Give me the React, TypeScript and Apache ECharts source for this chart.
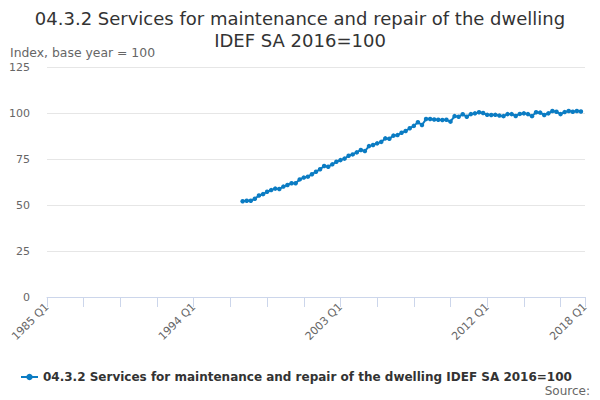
import React, { useEffect, useRef } from "react";
import * as echarts from "echarts";

const startYear = 1985;
const endYear = 2018;
const categories: string[] = [];
for (let y = startYear; y <= endYear; y++) {
  for (let q = 1; q <= 4; q++) {
    if (y === endYear && q > 1) break;
    categories.push(`${y} Q${q}`);
  }
}

const seriesName = "04.3.2 Services for maintenance and repair of the dwelling IDEF SA 2016=100";
const firstDataCategory = "1997 Q1";
// 1997 Q1 .. 2017 Q4
const values: number[] = [
  52.0, 52.3, 52.3, 53.4,
  55.2, 55.9, 57.2, 58.1,
  58.9, 58.7, 60.0, 60.9,
  61.8, 61.8, 63.9, 64.9,
  65.4, 66.7, 68.1, 69.4,
  71.2, 70.8, 72.1, 73.5,
  74.4, 75.2, 76.8, 77.5,
  78.6, 79.9, 79.3, 82.0,
  82.6, 83.5, 84.3, 86.2,
  86.0, 87.7, 88.0, 89.3,
  90.2, 91.7, 93.0, 95.0,
  93.5, 96.7, 96.7, 96.5,
  96.3, 96.2, 96.3, 95.3,
  98.3, 98.0, 99.3, 98.0,
  99.4, 99.8, 100.4, 100.0,
  99.0, 98.9, 99.0, 98.6,
  98.3, 99.4, 99.4, 98.4,
  99.5, 99.8, 99.4, 98.3,
  100.4, 100.2, 98.9, 99.8,
  101.1, 100.7, 99.4, 100.5,
  101.1, 100.7, 101.1, 100.8,
];

const yTicks = { min: 0, max: 125, interval: 25 };
const titleLines = ["04.3.2 Services for maintenance and repair of the dwelling", "IDEF SA 2016=100"];
const yAxisTitle = "Index, base year = 100";
const sourceText = "Source:";

const FONT = "DejaVu Sans, Verdana, sans-serif";
const COLOR = "#0b7cc3";

export default function App() {
  const ref = useRef<HTMLDivElement>(null);
  useEffect(() => {
    if (!ref.current) return;
    const chart = echarts.init(ref.current, undefined, { renderer: "svg" });
    const startIdx = categories.indexOf(firstDataCategory);
    const data: (number | null)[] = categories.map((_, i) => {
      const k = i - startIdx;
      return k >= 0 && k < values.length ? values[k] : null;
    });
    const last = categories.length - 1;
    chart.setOption({
      animation: false,
      textStyle: { fontFamily: FONT },
      grid: { left: 47, right: 15, top: 67, bottom: 103, containLabel: false },
      legend: {
        data: [seriesName],
        left: 15,
        top: 366,
        itemWidth: 17,
        itemHeight: 8,
        itemGap: 5,
        textStyle: { fontFamily: FONT, fontSize: 12, fontWeight: "bold", color: "#333333" },
      },
      graphic: [
        {
          type: "text",
          x: 300,
          y: 18,
          style: {
            text: titleLines[0],
            fontFamily: FONT,
            fontSize: 18,
            fill: "#333333",
            textAlign: "center",
            textVerticalAlign: "middle",
          },
        },
        {
          type: "text",
          x: 300,
          y: 40,
          style: {
            text: titleLines[1],
            fontFamily: FONT,
            fontSize: 18,
            fill: "#333333",
            textAlign: "center",
            textVerticalAlign: "middle",
          },
        },
        {
          type: "text",
          x: 10,
          y: 52,
          style: {
            text: yAxisTitle,
            fontFamily: FONT,
            fontSize: 12.4,
            fill: "#666666",
            textVerticalAlign: "middle",
          },
        },
        {
          type: "text",
          x: 590,
          y: 391,
          style: {
            text: sourceText,
            fontFamily: FONT,
            fontSize: 12,
            fill: "#666666",
            textAlign: "right",
            textVerticalAlign: "middle",
          },
        },
      ],
      xAxis: {
        type: "category",
        data: categories,
        boundaryGap: false,
        axisLine: { lineStyle: { color: "#ccd6eb" } },
        axisTick: {
          length: 10,
          lineStyle: { color: "#ccd6eb" },
          interval: (i: number) => i % 9 === 0 || i === last,
        },
        axisLabel: {
          rotate: 45,
          color: "#666666",
          fontFamily: FONT,
          fontSize: 11,
          margin: 8,
          interval: (i: number) => i % 36 === 0 || i === last,
        },
        splitLine: { show: false },
      },
      yAxis: {
        type: "value",
        min: yTicks.min,
        max: yTicks.max,
        interval: yTicks.interval,
        axisLine: { show: false },
        axisTick: { show: false },
        axisLabel: { color: "#666666", fontFamily: FONT, fontSize: 11, margin: 17 },
        splitLine: { lineStyle: { color: "#e6e6e6" } },
      },
      series: [
        {
          name: seriesName,
          type: "line",
          data,
          symbol: "circle",
          symbolSize: 4.5,
          showSymbol: true,
          showAllSymbol: true,
          connectNulls: false,
          itemStyle: { color: COLOR },
          lineStyle: { color: COLOR, width: 2 },
        },
      ],
    });
    return () => chart.dispose();
  }, []);
  return (
    <div
      ref={ref}
      style={{ position: "absolute", left: 0, top: 0, width: 600, height: 400 }}
    />
  );
}
